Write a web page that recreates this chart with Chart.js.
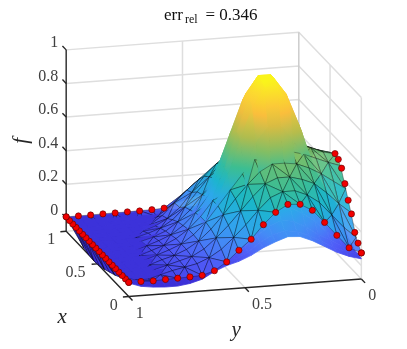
<!DOCTYPE html>
<html><head><meta charset="utf-8">
<style>html,body{margin:0;padding:0;background:#fff}canvas{display:block}</style>
<script src="https://cdn.jsdelivr.net/npm/chart.js@4"></script>
</head><body><canvas id="c" width="407" height="349"></canvas>
<script>
// ---------- data ----------
const zTicks=[0,0.2,0.4,0.6,0.8,1];
const zTickLabels=['0','0.2','0.4','0.6','0.8','1'];
const xTicks=[0,0.5,1];
const xTickLabels=['0','0.5','1'];
const yTicks=[0,0.5,1];
const yTickLabels=['0','0.5','1'];
const zMin=-0.08;
const titleParts=['err','rel','= 0.346'];
// reference surface f(x,y): rows x=i/19, columns y=j/19
const trueSurface=[
[.04,.06,.09,.13,.17,.20,.205,.18,.15,.11,.08,.06,.03,-.01,-.03,-.04,-.04,-.035,-.025,0],
[.05,.07,.10,.14,.18,.21,.22,.20,.16,.11,.07,.04,.02,0,-.01,-.02,-.02,-.015,-.01,0],
[.05,.08,.12,.16,.21,.25,.26,.23,.18,.12,.08,.04,.02,.01,0,0,0,0,0,0],
[.07,.10,.15,.22,.27,.31,.31,.27,.21,.15,.09,.05,.02,.01,0,0,0,0,0,0],
[.08,.12,.18,.27,.33,.38,.38,.33,.26,.18,.11,.06,.03,.01,0,0,0,0,0,0],
[.11,.16,.24,.36,.46,.52,.52,.46,.35,.24,.16,.09,.04,.02,.01,0,0,0,0,0],
[.16,.23,.35,.52,.65,.74,.74,.65,.50,.35,.22,.13,.06,.03,.01,0,0,0,0,0],
[.20,.30,.45,.67,.84,.95,.95,.84,.65,.45,.29,.16,.08,.03,.01,0,0,0,0,0],
[.21,.31,.47,.70,.88,.98,.98,.88,.68,.47,.30,.17,.08,.035,.01,0,0,0,0,0],
[.21,.31,.47,.70,.88,.98,.98,.88,.68,.47,.30,.17,.08,.03,.01,0,0,0,0,0],
[.20,.29,.44,.65,.82,.93,.93,.82,.63,.44,.28,.16,.07,.03,.01,0,0,0,0,0],
[.17,.25,.38,.56,.70,.80,.80,.70,.54,.38,.24,.14,.06,.03,.01,0,0,0,0,0],
[.13,.20,.30,.44,.55,.63,.63,.55,.43,.30,.19,.11,.05,.02,.01,0,0,0,0,0],
[.10,.14,.22,.32,.40,.46,.46,.40,.31,.22,.14,.08,.04,.02,0,0,0,0,0,0],
[.07,.10,.15,.22,.27,.31,.31,.27,.21,.15,.09,.05,.02,.01,0,0,0,0,0,0],
[.04,.06,.09,.13,.17,.19,.19,.17,.13,.09,.06,.03,.02,.01,0,0,0,0,0,0],
[.02,.04,.05,.07,.09,.11,.115,.10,.08,.06,.03,.02,.01,0,0,0,0,0,0,0],
[.01,.02,.03,.04,.05,.06,.06,.05,.04,.03,.02,.01,0,0,0,0,0,0,0,0],
[.01,.01,.01,.02,.02,.03,.03,.03,.02,.01,.01,.01,0,0,0,0,0,0,0,0],
[0,0,.01,.01,.01,.01,.02,.01,.01,.01,0,0,0,0,0,0,0,0,0,0]];
// approximating mesh surface: rows x=i/12, columns y=j/19
const meshSurface=[
[.075,.111,.191,.273,.351,.392,.397,.355,.287,.206,.146,.082,.035,.013,.009,.007,.005,.002,.004,.004],
[.135,.20,.28,.36,.41,.44,.44,.41,.34,.26,.19,.125,.08,.05,.035,.02,0,-.02,-.02,.002],
[.25,.31,.38,.44,.47,.49,.49,.46,.39,.31,.23,.16,.10,.06,.04,.02,0,-.04,-.05,.002],
[.36,.41,.46,.50,.53,.54,.54,.50,.43,.35,.26,.18,.115,.07,.04,.02,-.005,-.06,-.08,.002],
[.465,.49,.52,.55,.57,.58,.58,.54,.46,.37,.28,.19,.12,.07,.04,.015,-.01,-.07,-.10,.002],
[.503,.52,.55,.57,.59,.60,.595,.55,.47,.38,.28,.19,.12,.07,.035,.01,-.015,-.08,-.12,.002],
[.48,.50,.53,.55,.565,.575,.57,.53,.46,.37,.27,.18,.11,.06,.03,.005,-.02,-.08,-.135,.002],
[.45,.47,.49,.51,.525,.53,.525,.49,.42,.34,.25,.165,.10,.05,.02,0,-.03,-.09,-.15,.002],
[.415,.43,.45,.47,.48,.485,.48,.47,.40,.32,.235,.15,.08,.035,.01,-.01,-.04,-.09,-.16,.003],
[.385,.39,.41,.42,.43,.43,.425,.40,.36,.29,.20,.115,.055,.015,-.01,-.03,-.06,-.09,-.165,.003],
[.30,.31,.32,.33,.34,.34,.33,.31,.28,.24,.18,.11,.04,-.01,-.04,-.05,-.07,-.08,-.16,.004],
[.17,.18,.19,.21,.22,.24,.25,.25,.22,.18,.12,.055,0,-.03,-.05,-.06,-.06,-.05,-.15,.005],
[.05,.06,.07,.08,.09,.10,.10,.09,.08,.06,.04,.014,.01,.01,.008,.008,.007,.006,.006,.006]];
// red sample points along the visible boundary
const redEdgeY1=[.004,.004,.004,.004,.004,.004,.004,.004,.004,.004,.004,.004,.004,.004,.004,.004,.004,.004,.004,.006]; // y=1, x=k/19
const redEdgeX0=[.075,.111,.191,.273,.351,.392,.397,.355,.287,.206,.146,.082,.035,.013,.009,.007,.005,.002,.004,.004]; // x=0, y=k/19
const redEdgeY0=[.075,.113,.156,.246,.307,.385,.457,.489,.503]; // y=0, x=k/19 (visible part)
const redEdgeX1=[.006,.006,.006,.007,.007,.008,.008,.010,.014]; // x=1, y=1-k/19 (visible part)

// ---------- view ----------
const P=(x,y,z)=>({x:365-64*x-238*y,y:268-67*x+18*y-172.5*z});
const depth=(x,y,z)=>-3.72*x+y+1.55*z;
const stops=[[-.15,[60,40,205]],[0,[60,50,218]],[.1,[80,92,248]],[.2,[68,140,246]],[.3,[45,168,235]],[.4,[25,183,200]],[.5,[60,190,145]],[.6,[130,190,100]],[.7,[195,187,70]],[.8,[250,190,60]],[.9,[252,215,50]],[1,[249,251,21]]];
function cmap(z,a){
  let i=0;while(i<stops.length-2&&z>stops[i+1][0])i++;
  const [z0,c0]=stops[i],[z1,c1]=stops[i+1];
  const t=Math.max(0,Math.min(1,(z-z0)/(z1-z0)));
  const c=c0.map((v,k)=>Math.round(v+(c1[k]-v)*t));
  return a===undefined?`rgb(${c})`:`rgba(${c},${a})`;
}
function lineDS(pts,color,width){
  return {data:pts,borderColor:color,borderWidth:width,pointRadius:0,fill:false,tension:0,borderCapStyle:'butt'};
}
const AX='#262626',GR='#dedede';
const underlay=[],overlay=[];
// walls and floor grid
zTicks.forEach(z=>{underlay.push(lineDS([P(1,1,z),P(1,0,z),P(0,0,z)],GR,1.5));});
underlay.push(lineDS([P(1,.5,zMin),P(1,.5,1)],GR,1.5));
underlay.push(lineDS([P(.5,0,zMin),P(.5,0,1)],GR,1.5));
underlay.push(lineDS([P(.5,0,zMin),P(.5,1,zMin)],GR,1.5));
underlay.push(lineDS([P(0,.5,zMin),P(1,.5,zMin)],GR,1.5));
underlay.push(lineDS([P(1,1,zMin),P(1,0,zMin),P(0,0,zMin)],GR,1.5));
underlay.push(lineDS([P(0,0,zMin),P(0,0,1)],GR,1.5));
underlay.push(lineDS([P(1,0,zMin),P(1,0,1)],'#cccccc',1.5));
// axes
underlay.push(lineDS([P(1,1,1),P(1,1,zMin),P(0,1,zMin),P(0,0,zMin)],AX,1.4));
zTicks.forEach(z=>underlay.push(lineDS([P(1,1,z),P(1.06,1,z)],AX,1.4)));
xTicks.forEach(x=>underlay.push(lineDS([P(x,1,zMin),P(x,1.025,zMin)],AX,1.4)));
yTicks.forEach(y=>underlay.push(lineDS([P(0,y,zMin),P(-.06,y,zMin)],AX,1.4)));
// surfaces
const cells=[];
const shaded=[];
function trueCell(i,j){
  const n=19,v=[[i,j],[i+1,j],[i+1,j+1],[i,j+1]].map(([a,b])=>({X:a/n,Y:b/n,Z:trueSurface[a][b]}));
  const lo=v.reduce((m,p)=>p.Z<m.Z?p:m),hi=v.reduce((m,p)=>p.Z>m.Z?p:m);
  const pts=v.concat([v[0]]).map(p=>P(p.X,p.Y,p.Z));
  const m=v.reduce((t,p)=>t+depth(p.X,p.Y,p.Z),0)/4;
  const flat=cmap((lo.Z+hi.Z)/2);
  const ds={data:pts,fill:'shape',backgroundColor:flat,borderColor:flat,borderWidth:.8,pointRadius:0,tension:0};
  cells.push({d:m,ds});
  if(hi.Z-lo.Z>1e-6)shaded.push({ds,lo,hi});
}
for(let i=0;i<19;i++)for(let j=0;j<19;j++)trueCell(i,j);
function meshTri(a,b,c){
  const V=[a,b,c].map(([i,j])=>({X:i/12,Y:j/19,Z:meshSurface[i][j]}));
  const pts=V.concat([V[0]]).map(p=>P(p.X,p.Y,p.Z));
  const zm=(V[0].Z+V[1].Z+V[2].Z)/3;
  const dm=V.reduce((t,p)=>t+depth(p.X,p.Y,p.Z),0)/3;
  cells.push({d:dm,ds:{data:pts,fill:'shape',backgroundColor:cmap(zm+.05,.9),borderColor:'rgba(0,0,0,.6)',borderWidth:.55,pointRadius:0,tension:0}});
}
for(let i=0;i<12;i++)for(let j=0;j<19;j++){
  if((i+j)%2){meshTri([i,j],[i+1,j],[i+1,j+1]);meshTri([i,j],[i+1,j+1],[i,j+1]);}
  else{meshTri([i,j],[i+1,j],[i,j+1]);meshTri([i+1,j],[i+1,j+1],[i,j+1]);}
}
cells.sort((a,b)=>a.d-b.d);
// red points
const red=[];
redEdgeY1.forEach((z,k)=>red.push(P(k/19,1,z)));
redEdgeX0.forEach((z,k)=>red.push(P(0,k/19,z)));
redEdgeY0.forEach((z,k)=>red.push(P(k/19,0,z)));
redEdgeX1.forEach((z,k)=>red.push(P(1,1-k/19,z)));
overlay.push({data:red,showLine:false,pointRadius:3.1,pointBackgroundColor:'#f00000',pointBorderColor:'#5a0000',pointBorderWidth:.6});

const datasets=underlay.concat(cells.map(c=>c.ds),overlay).reverse();

const textPlugin={id:'txt',afterDraw(ch){
  const c=ch.ctx,sx=ch.scales.x,sy=ch.scales.y;
  const T=(s,p,dx,dy,font,col,al,rot)=>{
    c.save();c.font=font;c.fillStyle=col;c.textAlign=al||'center';c.textBaseline='middle';
    c.translate(sx.getPixelForValue(p.x)+dx,sy.getPixelForValue(p.y)+dy);
    if(rot)c.rotate(rot);c.fillText(s,0,0);c.restore();
  };
  const F='16px "Liberation Serif"',TC='#404040';
  zTicks.forEach((z,i)=>T(zTickLabels[i],P(1,1,z),-8,-7,F,TC,'right'));
  xTicks.forEach((x,i)=>T(xTickLabels[i],P(x,1,zMin),x==.5?-22:-15,9,F,TC));
  yTicks.forEach((y,i)=>T(yTickLabels[i],P(0,y,zMin),y==.5?17:11,17,F,TC));
  const I='italic 21px "Liberation Serif"';
  T('x',{x:59,y:321},0,0,I,'#262626');
  T('y',{x:237,y:335},0,0,I,'#262626');
  T('f',{x:17,y:140},0,0,I,'#262626','center',-Math.PI/2);
  c.save();c.fillStyle='#111';c.textBaseline='alphabetic';c.textAlign='left';
  c.font='17px "Liberation Serif"';c.fillText(titleParts[0],164,20);
  c.font='12px "Liberation Serif"';c.fillText(titleParts[1],185,23);
  c.font='17px "Liberation Serif"';c.fillText(titleParts[2],205.5,20);
  c.restore();
}};
const chart=new Chart(document.getElementById('c'),{
  type:'line',data:{datasets},plugins:[textPlugin],
  options:{responsive:false,animation:false,events:[],
    layout:{padding:0},
    plugins:{legend:{display:false},tooltip:{enabled:false},title:{display:false}},
    scales:{x:{type:'linear',min:0,max:407,display:false},y:{type:'linear',min:0,max:349,reverse:true,display:false}}}
});
// smooth colour across each cell of the reference surface
const sx=chart.scales.x,sy=chart.scales.y;
shaded.forEach(({ds,lo,hi})=>{
  const a=P(lo.X,lo.Y,lo.Z),b=P(hi.X,hi.Y,hi.Z);
  const g=chart.ctx.createLinearGradient(sx.getPixelForValue(a.x),sy.getPixelForValue(a.y),sx.getPixelForValue(b.x),sy.getPixelForValue(b.y));
  g.addColorStop(0,cmap(lo.Z));g.addColorStop(.5,cmap((lo.Z+hi.Z)/2));g.addColorStop(1,cmap(hi.Z));
  ds.backgroundColor=g;ds.borderColor=g;
});
chart.update('none');
</script></body></html>
